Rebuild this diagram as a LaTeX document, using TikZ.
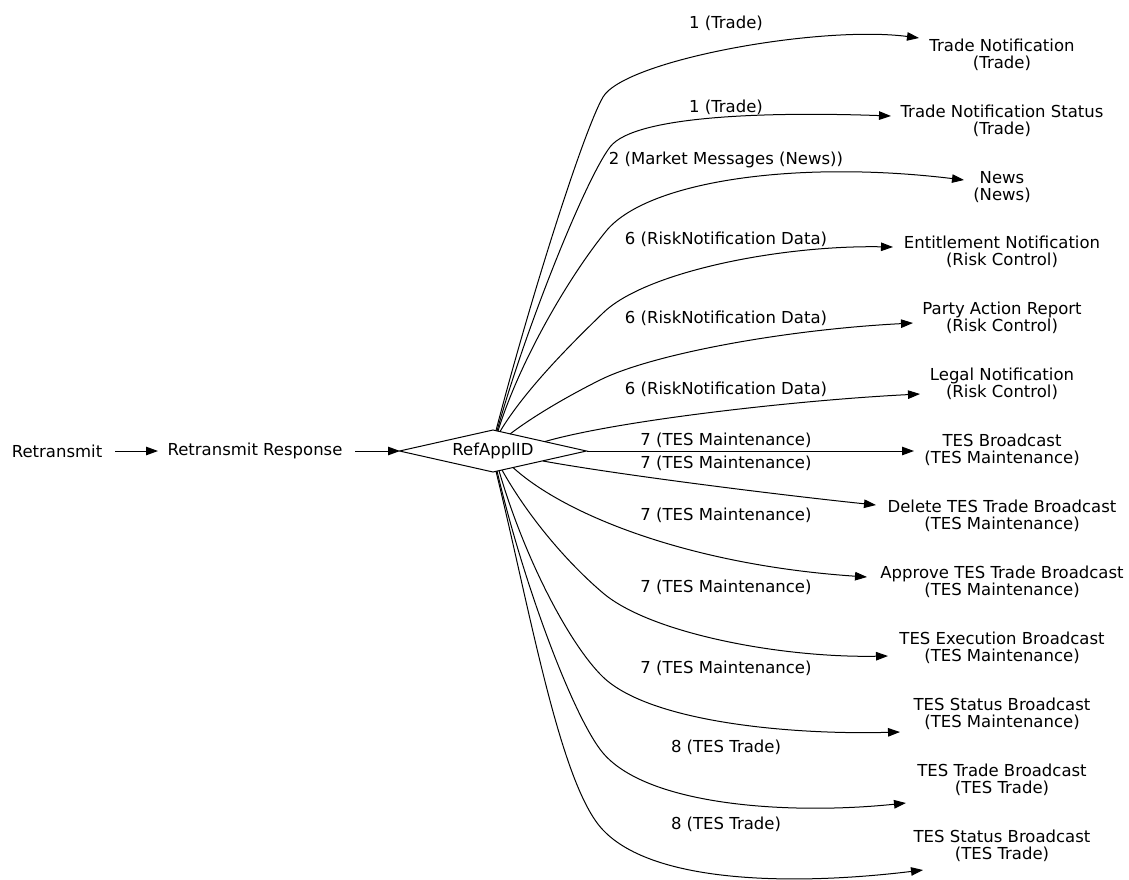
\documentclass[tikz,border=0pt]{standalone}
\usepackage{fontspec}
\setmainfont{DejaVu Sans}
\usetikzlibrary{arrows.meta,shapes.geometric,calc}
\begin{document}
\begin{tikzpicture}[x=1pt,y=-1pt,
  every node/.style={font=\fontsize{16.5pt}{17.5pt}\selectfont, inner sep=0pt, outer sep=0pt},
  lbl/.style={align=center},
  edge/.style={draw, line width=1pt, -{Triangle[length=12pt,width=8.5pt]}},
]
\useasboundingbox (0,0) rectangle (1129,879);

% source chain
\node (rt) at (57,451) {Retransmit};
\node (rr) at (255,451) {Retransmit Response};
\node[diamond, draw, line width=1pt, aspect=4.45, minimum width=187pt, minimum height=42pt] (d) at (493,451) {RefApplID};

% targets
\node[lbl] (t1) at (1002,55) {Trade Notification\\(Trade)};
\node[lbl] (t2) at (1002,121) {Trade Notification Status\\(Trade)};
\node[lbl] (t3) at (1002,187) {News\\(News)};
\node[lbl] (t4) at (1002,252) {Entitlement Notification\\(Risk Control)};
\node[lbl] (t5) at (1002,318) {Party Action Report\\(Risk Control)};
\node[lbl] (t6) at (1002,384) {Legal Notification\\(Risk Control)};
\node[lbl] (t7) at (1002,450) {TES Broadcast\\(TES Maintenance)};
\node[lbl] (t8) at (1002,516) {Delete TES Trade Broadcast\\(TES Maintenance)};
\node[lbl] (t9) at (1002,582) {Approve TES Trade Broadcast\\(TES Maintenance)};
\node[lbl] (t10) at (1002,648) {TES Execution Broadcast\\(TES Maintenance)};
\node[lbl] (t11) at (1002,714) {TES Status Broadcast\\(TES Maintenance)};
\node[lbl] (t12) at (1002,780) {TES Trade Broadcast\\(TES Trade)};
\node[lbl] (t13) at (1002,846) {TES Status Broadcast\\(TES Trade)};

% edge labels
\node (l1) at (726,23) {1 (Trade)};
\node (l2) at (726,107) {1 (Trade)};
\node (l3) at (726,160) {2 (Market Messages (News))};
\node (l4) at (726,239) {6 (RiskNotification Data)};
\node (l5) at (726,318) {6 (RiskNotification Data)};
\node (l6) at (726,389) {6 (RiskNotification Data)};
\node (l7) at (726,440) {7 (TES Maintenance)};
\node (l8) at (726,463) {7 (TES Maintenance)};
\node (l9) at (726,515) {7 (TES Maintenance)};
\node (l10) at (726,587) {7 (TES Maintenance)};
\node (l11) at (726,668) {7 (TES Maintenance)};
\node (l12) at (726,747) {8 (TES Trade)};
\node (l13) at (726,824) {8 (TES Trade)};

% connectors
\draw[edge] ($(rt)+(58,0)$) -- ($(rr)+(-97,0)$);
\draw[edge] ($(rr)+(100,0)$) -- ($(d)+(-93,0)$);

\draw[edge] ($(d)+(3,-20.5)$) .. controls (530,300) and (583,132) .. (603,97)
  .. controls (625,60) and (820,25) .. ($(t1)+(-83,-17)$);
\draw[edge] ($(d)+(4,-20)$) .. controls (525,330) and (585,180) .. (610,147)
  .. controls (635,114) and (780,112) .. ($(t2)+(-111,-5)$);
\draw[edge] ($(d)+(5,-20)$) .. controls (520,360) and (570,275) .. (607,230)
  .. controls (650,180) and (800,160) .. ($(t3)+(-38,-7)$);
\draw[edge] ($(d)+(7,-19.5)$) .. controls (525,390) and (570,345) .. (603,313)
  .. controls (645,272) and (780,245) .. ($(t4)+(-109,-5)$);
\draw[edge] ($(d)+(17,-17)$) .. controls (535,415) and (570,395) .. (600,380)
  .. controls (650,355) and (780,330) .. ($(t5)+(-89,5)$);
\draw[edge] ($(d)+(52,-9.5)$) .. controls (620,420) and (800,400) .. ($(t6)+(-82,10)$);
\draw[edge] ($(d)+(94,0)$) -- ($(t7)+(-88,1)$);
\draw[edge] ($(d)+(50,10)$) .. controls (620,475) and (780,495) .. ($(t8)+(-126,-11)$);
\draw[edge] ($(d)+(20,16.5)$) .. controls (565,515) and (690,565) .. ($(t9)+(-135,-5)$);
\draw[edge] ($(d)+(9,19)$) .. controls (530,520) and (570,565) .. (603,593)
  .. controls (650,633) and (780,658) .. ($(t10)+(-114,8)$);
\draw[edge] ($(d)+(6,19.7)$) .. controls (525,560) and (570,645) .. (603,677)
  .. controls (650,722) and (790,735) .. ($(t11)+(-102,18)$);
\draw[edge] ($(d)+(4,20)$) .. controls (525,590) and (575,720) .. (603,753)
  .. controls (648,806) and (790,815) .. ($(t12)+(-96,23)$);
\draw[edge] ($(d)+(3,20.3)$) .. controls (530,610) and (560,785) .. (603,830)
  .. controls (655,885) and (800,885) .. ($(t13)+(-79,24)$);
\end{tikzpicture}
\end{document}
